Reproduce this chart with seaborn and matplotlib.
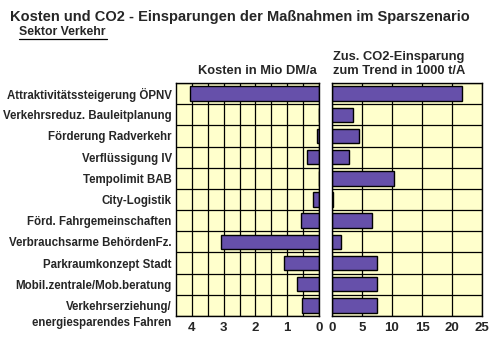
import matplotlib
matplotlib.use("Agg")
import matplotlib.pyplot as plt
import matplotlib.transforms as mtrans
import seaborn as sns
import pandas as pd
import numpy as np

categories = [
    "Attraktivitätssteigerung ÖPNV",
    "Verkehrsreduz. Bauleitplanung",
    "Förderung Radverkehr",
    "Verflüssigung IV",
    "Tempolimit BAB",
    "City-Logistik",
    "Förd. Fahrgemeinschaften",
    "Verbrauchsarme BehördenFz.",
    "Parkraumkonzept Stadt",
    "Mobil.zentrale/Mob.beratung",
    "Verkehrserziehung/\nenergiesparendes Fahren",
]
kosten = [4.07, 0.0, 0.07, 0.37, 0.0, 0.18, 0.58, 3.08, 1.09, 0.68, 0.53]
co2 = [21.6, 3.6, 4.5, 2.9, 10.35, 0.2, 6.75, 1.6, 7.6, 7.6, 7.6]
kosten_ticks = [4, 3, 2, 1, 0]
co2_ticks = [0, 5, 10, 15, 20, 25]

df = pd.DataFrame({"Massnahme": categories, "Kosten": kosten, "CO2": co2})

sns.set_theme(style="white")
plt.rcParams['font.family'] = ['Liberation Sans', 'DejaVu Sans']
plt.rcParams['font.weight'] = 'bold'

BAR = "#6650AA"
BG = "#FFFFCC"

fig = plt.figure(figsize=(4.92, 3.41), dpi=100)
fig.patch.set_facecolor("white")
axL = fig.add_axes([176/492, 1-316/341, 143/492, 233/341])
axR = fig.add_axes([331.7/492, 1-316/341, 150.6/492, 233/341])

for ax, col in ((axL, "Kosten"), (axR, "CO2")):
    sns.barplot(data=df, x=col, y="Massnahme", ax=ax, color=BAR,
                orient="h", width=0.68, edgecolor="black", linewidth=1.0,
                saturation=1)
    ax.set_facecolor(BG)
    ax.set_ylim(10.5, -0.5)
    ax.set_yticks(np.arange(-0.5, 11, 1), minor=True)
    ax.grid(which="minor", axis="y", color="black", linewidth=0.9)
    ax.grid(which="major", axis="x", color="black", linewidth=0.9)
    ax.set_axisbelow(True)
    ax.set_xlabel("")
    ax.set_ylabel("")
    for s in ax.spines.values():
        s.set_color("black")
        s.set_linewidth(1.0)

axL.set_xlim(4.5, 0)
grid_l = np.arange(0, 4.5, 0.5)
axL.set_xticks(grid_l)
axL.set_xticklabels([str(int(v)) if v in kosten_ticks else "" for v in grid_l],
                    fontweight="bold", fontsize=9.5)
axL.tick_params(axis="x", length=0, pad=4)
axL.tick_params(axis="y", labelsize=8.3, length=0, pad=3)
for lab in axL.get_yticklabels():
    lab.set_fontweight("bold")
    lab.set_horizontalalignment("right")
    lab.set_multialignment("right")
    if "\n" in lab.get_text():
        lab.set_linespacing(1.4)
        lab.set_verticalalignment("top")
        lab.set_transform(lab.get_transform() +
                          mtrans.ScaledTranslation(0, 4/100, fig.dpi_scale_trans))

axR.set_xlim(0, 25)
axR.set_xticks(co2_ticks)
axR.set_xticklabels([str(t) for t in co2_ticks], fontweight="bold", fontsize=9.5)
axR.tick_params(axis="x", length=0, pad=4)
axR.set_yticklabels([])
axR.tick_params(axis="y", length=0)

fig.text(10/492, 1-17/341, "Kosten und CO2 - Einsparungen der Maßnahmen im Sparszenario",
         fontsize=10.5, fontweight="bold", va="center", ha="left")
fig.text(19/492, 1-32/341, "Sektor Verkehr", fontsize=8.8, fontweight="bold",
         va="center", ha="left")
fig.add_artist(plt.Line2D([19/492, 107/492], [1-38.5/341, 1-38.5/341], color="black", linewidth=0.9))
fig.text(317/492, 1-71/341, "Kosten in Mio DM/a", fontsize=9.3, fontweight="bold",
         va="center", ha="right")
fig.text(333/492, 1-64/341, "Zus. CO2-Einsparung\nzum Trend in 1000 t/A", fontsize=9.3,
         fontweight="bold", va="center", ha="left", linespacing=1.15)

fig.savefig("out.png", dpi=100, facecolor="white")
